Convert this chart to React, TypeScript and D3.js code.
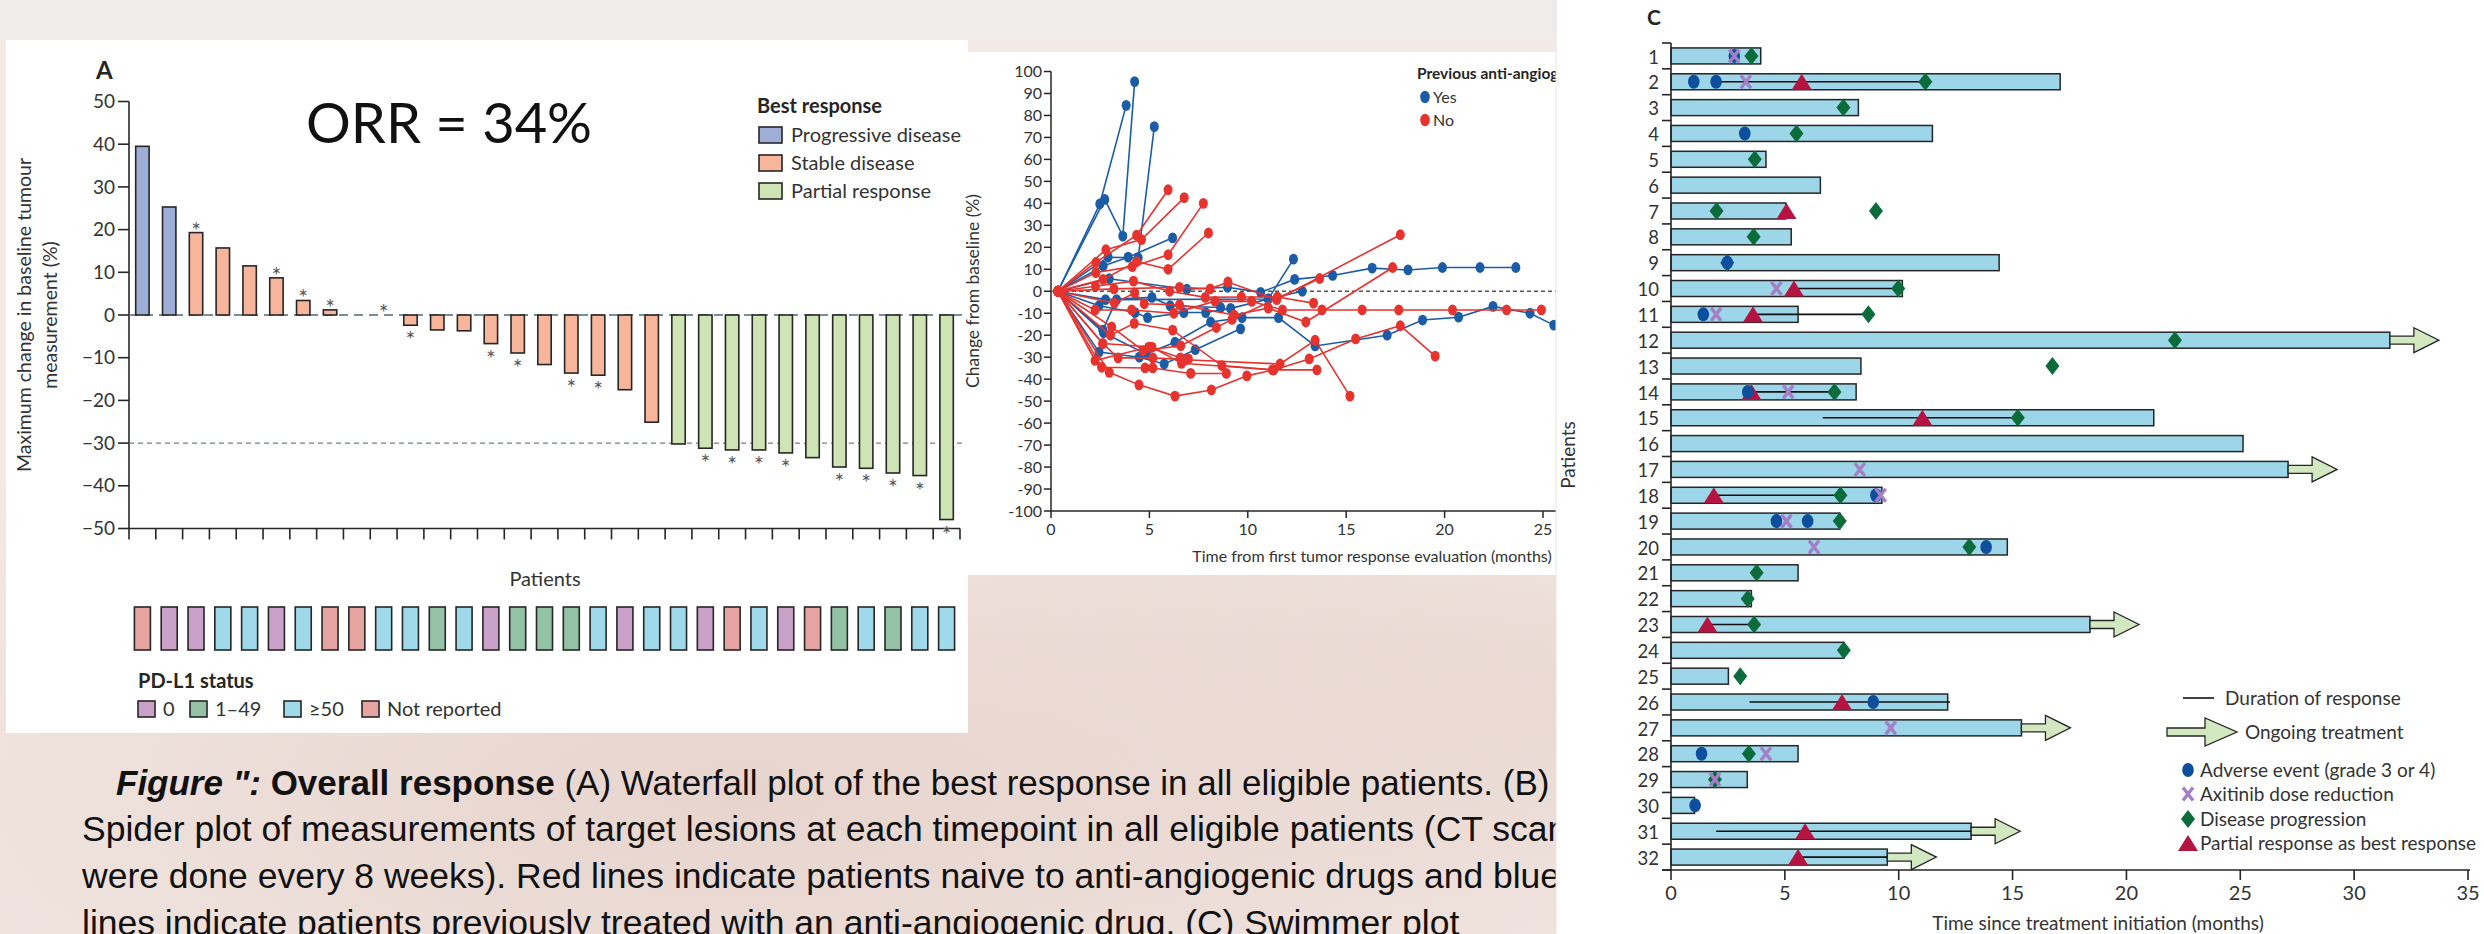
import React from "react";
import * as d3 from "d3";

const NARROW = "Lato, 'Open Sans', sans-serif";
const SANS = "Lato, 'Open Sans', sans-serif";
const CAPTION = "'Liberation Sans', Arial, sans-serif";
const INK = "#262626";

// ---------- Panel A: waterfall of best response ----------
const waterfallChange = [
  39.5, 25.3, 19.3, 15.7, 11.5, 8.7, 3.4, 1.2, 0, 0, -2.4, -3.5, -3.7, -6.7, -8.9, -11.6,
  -13.6, -14.1, -17.5, -25.1, -30.2, -31.2, -31.6, -31.6, -32.3, -33.4, -35.6, -35.9, -37.0,
  -37.6, -47.9,
];
const bestResponse = [
  "PD", "PD",
  "SD", "SD", "SD", "SD", "SD", "SD", "SD", "SD", "SD", "SD", "SD", "SD", "SD", "SD", "SD", "SD", "SD", "SD",
  "PR", "PR", "PR", "PR", "PR", "PR", "PR", "PR", "PR", "PR", "PR",
];
const hasAsterisk = [
  0, 0, 1, 0, 0, 1, 1, 1, 0, 1, 1, 0, 0, 1, 1, 0, 1, 1, 0, 0, 0, 1, 1, 1, 1, 0, 1, 1, 1, 1, 1,
];
const pdl1Status = [
  "NR", "0", "0", "50", "50", "0", "50", "NR", "NR", "50", "50", "1", "50", "0", "1", "1",
  "1", "50", "0", "50", "50", "0", "NR", "50", "0", "NR", "1", "50", "1", "50", "50",
];
const responseColors: Record<string, string> = { PD: "#9eaed6", SD: "#f7b59b", PR: "#cfe4b4" };
const responseLegend = [
  ["PD", "Progressive disease"],
  ["SD", "Stable disease"],
  ["PR", "Partial response"],
];
const pdl1Colors: Record<string, string> = { "0": "#c9a1c9", "1": "#93c2a4", "50": "#9fd9ea", NR: "#e6a4a1" };
const pdl1Legend = [
  ["0", "0"],
  ["1", "1–49"],
  ["50", "≥50"],
  ["NR", "Not reported"],
];
const waterfallTicks = [50, 40, 30, 20, 10, 0, -10, -20, -30, -40, -50];

// ---------- Panel B: spider plot (month, % change) ----------
const spiderYes: number[][][] = [
  [[0.35, 0], [2.48, 39.7], [3.82, 84.6]],
  [[0.35, 0], [2.73, 41.8], [3.65, 25.1], [4.25, 95.4]],
  [[0.35, 0], [2.9, 15.5], [4.43, 15.2], [5.25, 74.9]],
  [[0.35, 0], [2.65, 11.5], [3.92, 15.5], [6.18, 24.3]],
  [[0.35, 0], [2.96, 5.7], [6.9, 0.9], [8.97, 1.8], [10.65, -0.5], [12.38, 5.4], [14.31, 7.2], [16.32, 10.5], [18.14, 9.7], [19.89, 10.8], [21.8, 10.8], [23.62, 10.8]],
  [[0.35, 0], [2.44, -27.7], [4.49, -30], [5.75, -33.1], [7.33, -26.6], [9.63, -17.1]],
  [[0.35, 0], [2.67, -18.9], [4.82, -28.5], [6.3, -23.2], [8.11, -14], [9.71, -12], [11.56, -12], [13.42, -24.9], [17.08, -20], [18.88, -13.1], [20.71, -11.8], [22.46, -6.9], [24.34, -10], [25.55, -15.4]],
  [[0.35, 0], [2.44, -6.6], [4.27, -9.7], [4.91, -12], [6.75, -9.7], [7.86, -9.7], [9.13, -7.8], [11.04, -3.5], [12.32, 14.6]],
  [[0.35, 0], [2.77, -3.8], [5.13, -2.8], [6.05, -6.6], [8.62, -7.4]],
  [[0.35, 0], [2.63, -17.7], [3.33, -3.8], [11.04, -3.5], [12.77, 0]],
];
const spiderNo: number[][][] = [
  [[0.35, 0], [2.28, 13.1], [4.35, 25.5], [5.95, 46.2]],
  [[0.35, 0], [2.79, 18.9], [4.6, 23.5], [6.77, 42.6]],
  [[0.35, 0], [2.28, 8.5], [4.13, 11.2], [5.95, 16.6], [7.74, 40]],
  [[0.35, 0], [2.65, 5.4], [4.35, 13.5], [5.95, 10], [8.0, 26.5]],
  [[0.35, 0], [2.26, 2.3], [4.19, 4.6], [6.03, 0], [7.84, -2.8], [9.67, -2.6], [11.5, -2.6], [13.34, -5.4]],
  [[0.35, 0], [3.2, 1.1], [6.53, 1.8], [8.09, 1.1], [8.99, 4.2], [11.47, -3.8], [17.75, 25.7]],
  [[0.35, 0], [2.24, -8.5], [4.1, -8.5], [6.24, -10], [8.33, -4.5], [10.2, -4.6], [11.76, -8.5], [13.77, -8.5], [15.81, -8.5], [17.67, -8.5], [20.4, -8.5], [23.15, -8.5], [24.92, -8.5]],
  [[0.35, 0], [3.22, -5.4], [4.25, -0.8], [4.74, -5.7], [6.53, -6.2], [9.3, -10.8], [11.04, -7.7], [12.95, -14], [17.36, 10.8]],
  [[0.35, 0], [3.08, -16.2], [4.68, -27], [6.59, -24.8], [8.4, -16.5], [9.2, -12.8], [13.65, 5.8]],
  [[0.35, 0], [2.96, -36.9], [4.47, -42.6], [6.3, -47.7], [8.15, -44.9], [9.95, -38.5], [11.31, -35.8], [13.12, -30.8], [15.48, -21.7], [17.75, -15.7], [19.52, -29.5]],
  [[0.35, 0], [3.02, -20], [4.23, -14.6], [6.18, -17.7], [8.68, -33.8], [11.25, -35.8], [13.51, -35.8]],
  [[0.35, 0], [2.57, -34.6], [4.78, -34.9], [5.17, -34.9], [7.1, -37.4], [8.91, -37.4]],
  [[0.35, 0], [2.63, -23.8], [3.41, -30.3], [5.17, -30.3], [6.83, -31.2], [11.64, -33.1], [13.42, -22.3], [15.19, -47.7]],
  [[0.35, 0], [2.24, -31.5], [4.97, -25.4], [6.57, -30.3], [6.98, -30.8]],
  [[0.35, 0], [2.63, -23.8], [5.13, -25.4], [6.63, -32.8], [11.31, -35.8]],
];
const spiderYTicks = [100, 90, 80, 70, 60, 50, 40, 30, 20, 10, 0, -10, -20, -30, -40, -50, -60, -70, -80, -90, -100];
const spiderXTicks = [0, 5, 10, 15, 20, 25];
const spiderBlue = "#1b5ca7";
const spiderRed = "#e6332e";

// ---------- Panel C: swimmer plot ----------
const patients = [
  1, 2, 3, 4, 5, 6, 7, 8, 9, 10, 11, 12, 13, 14, 15, 16,
  17, 18, 19, 20, 21, 22, 23, 24, 25, 26, 27, 28, 29, 30, 31, 32,
];
const treatmentMonths = [
  3.94, 17.09, 8.23, 11.48, 4.17, 6.56, 5.04, 5.28, 14.41, 10.16, 5.58, 31.57, 8.34, 8.13, 21.2, 25.12,
  27.1, 9.26, 7.41, 14.77, 5.58, 3.53, 18.4, 7.59, 2.52, 12.15, 15.39, 5.58, 3.35, 1.03, 13.18, 9.5,
];
const ongoingPatients = [12, 17, 23, 27, 31, 32];
const responseSpans = [
  [2, 1.98, 11.17], [10, 5.4, 9.98], [11, 3.6, 8.67], [14, 3.37, 7.18], [15, 6.66, 15.23],
  [18, 1.88, 7.44], [23, 1.6, 3.65], [26, 3.45, 12.25], [31, 1.98, 13.18], [32, 5.58, 9.5],
];
const adverseEvents = [
  [1, 2.78], [2, 1.0], [2, 1.98], [4, 3.24], [9, 2.47], [11, 1.42], [14, 3.37], [18, 9.0],
  [19, 4.63], [19, 6.0], [20, 13.84], [26, 8.88], [28, 1.34], [30, 1.06],
];
const doseReductions = [
  [1, 2.78], [2, 3.29], [10, 4.63], [11, 1.98], [14, 5.15], [17, 8.29], [18, 9.21], [19, 5.07],
  [20, 6.28], [27, 9.65], [28, 4.17], [29, 1.93],
];
const progressions = [
  [1, 3.53], [2, 11.17], [3, 7.57], [4, 5.51], [5, 3.68], [7, 2.0], [7, 9.0], [8, 3.63], [9, 2.47],
  [10, 9.98], [11, 8.67], [12, 22.13], [13, 16.75], [14, 7.18], [15, 15.23], [18, 7.44], [19, 7.41],
  [20, 13.1], [21, 3.76], [22, 3.37], [23, 3.65], [24, 7.59], [25, 3.04], [28, 3.42], [29, 1.93],
];
const partialResponses = [
  [2, 5.74], [7, 5.07], [10, 5.4], [11, 3.6], [14, 3.53], [15, 11.04], [18, 1.88], [23, 1.6],
  [26, 7.51], [31, 5.89], [32, 5.58],
];
const swimmerTicks = [0, 5, 10, 15, 20, 25, 30, 35];
const swimmerLegend = [
  "Adverse event (grade 3 or 4)",
  "Axitinib dose reduction",
  "Disease progression",
  "Partial response as best response",
];
const C_BAR = "#9dd6e8";
const C_ARROW = "#d2e8c0";
const C_DOT = "#0e4f9d";
const C_CROSS = "#a47fc6";
const C_DIAMOND = "#0b6b3a";
const C_TRIANGLE = "#b51340";

// ---------- caption ----------
const captionLines = [
  "Spider plot of measurements of target lesions at each timepoint in all eligible patients (CT scans",
  "were done every 8 weeks). Red lines indicate patients naive to anti-angiogenic drugs and blue",
  "lines indicate patients previously treated with an anti-angiogenic drug. (C) Swimmer plot",
];

function diamond(cx: number, cy: number, w = 7, h = 9) {
  return `M${cx},${cy - h} L${cx + w},${cy} L${cx},${cy + h} L${cx - w},${cy} Z`;
}
function triangle(cx: number, cy: number, w = 10, h = 8) {
  return `M${cx},${cy - h} L${cx + w},${cy + h} L${cx - w},${cy + h} Z`;
}
function cross(cx: number, cy: number, w = 5, h = 6.5) {
  return `M${cx - w},${cy - h} L${cx + w},${cy + h} M${cx + w},${cy - h} L${cx - w},${cy + h}`;
}
function arrow(x0: number, cy: number, shaft = 24, head = 25, hh = 12.5) {
  return `M${x0},${cy - 4} H${x0 + shaft} V${cy - hh} L${x0 + shaft + head},${cy} L${x0 + shaft},${cy + hh} V${cy + 4} H${x0} Z`;
}

export default function App() {
  // Panel A scales
  const xW = d3
    .scaleBand<number>()
    .domain(waterfallChange.map((_, i) => i))
    .range([129, 960])
    .paddingInner(0.5)
    .paddingOuter(0.25);
  const yW = d3.scaleLinear().domain([-50, 50]).range([528.5, 101.5]);
  const boundaries = waterfallChange.map((_, i) => 129 + i * xW.step()).concat([960]);

  // Panel B scales
  const xS = d3.scaleLinear().domain([0, 25]).range([1051, 1543]);
  const yS = d3.scaleLinear().domain([-100, 100]).range([511, 71.5]);
  const lineS = d3
    .line<number[]>()
    .x((d) => xS(d[0]))
    .y((d) => yS(d[1]));

  // Panel C scales
  const xC = d3.scaleLinear().domain([0, 35]).range([1671, 2468]);
  const yC = d3.scaleBand<number>().domain(patients).range([43, 870]);
  const rowY = (p: number) => (yC(p) as number) + yC.bandwidth() / 2;
  const rowEdges = patients.map((p) => yC(p) as number).concat([870]);

  return (
    <svg
      width={2484}
      height={934}
      viewBox="0 0 2484 934"
      style={{ position: "absolute", left: 0, top: 0, display: "block" }}
    >
      <defs>
        <radialGradient id="hazeA" cx="0.3" cy="0.85" r="0.45">
          <stop offset="0" stopColor="#e2cbc3" stopOpacity="0.7" />
          <stop offset="1" stopColor="#e2cbc3" stopOpacity="0" />
        </radialGradient>
        <radialGradient id="hazeB" cx="0.62" cy="0.75" r="0.3">
          <stop offset="0" stopColor="#e6d2cb" stopOpacity="0.6" />
          <stop offset="1" stopColor="#e6d2cb" stopOpacity="0" />
        </radialGradient>
      </defs>

      {/* page background */}
      <rect x={0} y={0} width={2484} height={934} fill="#f3e9e5" />
      <rect x={0} y={0} width={2484} height={934} fill="url(#hazeA)" />
      <rect x={0} y={0} width={2484} height={934} fill="url(#hazeB)" />
      <rect x={0} y={0} width={1560} height={40} fill="#f1ecec" />

      {/* ===== Panel A ===== */}
      <rect x={6} y={40} width={962} height={693} fill="#ffffff" />
      <text x={96} y={79} fontFamily={SANS} fontWeight={700} fontSize={24} fill={INK}>A</text>
      <text x={306} y={143} fontFamily={SANS} fontSize={56} fill="#111">ORR = 34%</text>

      {/* y axis */}
      <line x1={129} x2={129} y1={yW(50)} y2={yW(-50)} stroke={INK} strokeWidth={1.6} />
      {waterfallTicks.map((t) => (
        <g key={t}>
          <line x1={118} x2={129} y1={yW(t)} y2={yW(t)} stroke={INK} strokeWidth={1.6} />
          <text
            x={115}
            y={yW(t)}
            dy="0.35em"
            textAnchor="end"
            fontFamily={SANS}
            fontSize={19}
            fill="#333"
          >
            {t < 0 ? `−${-t}` : t}
          </text>
        </g>
      ))}
      <text
        transform="translate(31,315) rotate(-90)"
        textAnchor="middle"
        fontFamily={SANS}
        fontSize={19.5}
        fill="#333"
      >
        Maximum change in baseline tumour
      </text>
      <text
        transform="translate(57,315) rotate(-90)"
        textAnchor="middle"
        fontFamily={SANS}
        fontSize={19.5}
        fill="#333"
      >
        measurement (%)
      </text>

      {/* x axis */}
      <line x1={129} x2={960} y1={yW(-50)} y2={yW(-50)} stroke={INK} strokeWidth={1.6} />
      {boundaries.map((bx, i) => (
        <line key={i} x1={bx} x2={bx} y1={yW(-50)} y2={yW(-50) + 11} stroke={INK} strokeWidth={1.6} />
      ))}

      {/* reference lines */}
      <line x1={129} x2={962} y1={yW(0)} y2={yW(0)} stroke="#4e6b74" strokeWidth={1.6} strokeDasharray="9,6" />
      <line x1={129} x2={962} y1={yW(-30)} y2={yW(-30)} stroke="#6d8189" strokeWidth={1.2} strokeDasharray="5,4" />

      {/* bars */}
      {waterfallChange.map((v, i) => {
        const x = xW(i) as number;
        const y0 = yW(Math.max(v, 0));
        const y1 = yW(Math.min(v, 0));
        return (
          <rect
            key={i}
            x={x}
            y={y0}
            width={xW.bandwidth()}
            height={y1 - y0}
            fill={responseColors[bestResponse[i]]}
            stroke={INK}
            strokeWidth={1.6}
          />
        );
      })}
      {waterfallChange.map((v, i) =>
        hasAsterisk[i] ? (
          <text
            key={i}
            x={(xW(i) as number) + xW.bandwidth() / 2}
            y={v >= 0 ? yW(v) + 6 : yW(v) + 23}
            textAnchor="middle"
            fontFamily={SANS}
            fontSize={23}
            fill="#5a5a5a"
          >
            *
          </text>
        ) : null
      )}

      {/* response legend */}
      <text x={757} y={113} fontFamily={NARROW} fontWeight={700} fontSize={20} fill={INK}>Best response</text>
      {responseLegend.map(([k, label], i) => (
        <g key={k}>
          <rect x={759} y={127 + i * 28} width={23} height={16} fill={responseColors[k]} stroke={INK} strokeWidth={1.6} />
          <text x={791} y={135 + i * 28} dy="0.35em" fontFamily={NARROW} fontSize={20} fill="#333">{label}</text>
        </g>
      ))}

      <text x={545} y={586} textAnchor="middle" fontFamily={NARROW} fontSize={20} fill="#333">Patients</text>

      {/* PD-L1 strip */}
      {pdl1Status.map((s, i) => (
        <rect
          key={i}
          x={(xW(i) as number) + xW.bandwidth() / 2 - 8}
          y={607}
          width={16}
          height={43}
          fill={pdl1Colors[s]}
          stroke={INK}
          strokeWidth={1.6}
        />
      ))}
      <text x={138} y={688} fontFamily={NARROW} fontWeight={700} fontSize={20} fill={INK}>PD-L1 status</text>
      {pdl1Legend.map(([k, label], i) => {
        const lx = [138, 190, 284, 362][i];
        return (
          <g key={k}>
            <rect x={lx} y={701} width={17} height={16} fill={pdl1Colors[k]} stroke={INK} strokeWidth={1.6} />
            <text x={lx + 25} y={709} dy="0.35em" fontFamily={NARROW} fontSize={20} fill="#333">{label}</text>
          </g>
        );
      })}

      {/* ===== Panel B ===== */}
      <rect x={968} y={52} width={600} height={523} fill="#ffffff" />
      <text
        transform="translate(979,291) rotate(-90)"
        textAnchor="middle"
        fontFamily={SANS}
        fontSize={17.5}
        fill="#333"
      >
        Change from baseline (%)
      </text>
      <line x1={1051} x2={1051} y1={yS(100)} y2={yS(-100)} stroke={INK} strokeWidth={1.5} />
      {spiderYTicks.map((t) => (
        <g key={t}>
          <line x1={1044} x2={1051} y1={yS(t)} y2={yS(t)} stroke={INK} strokeWidth={1.5} />
          <text x={1042} y={yS(t)} dy="0.35em" textAnchor="end" fontFamily={NARROW} fontSize={16} fill="#333">
            {t}
          </text>
        </g>
      ))}
      <line x1={1051} x2={1570} y1={yS(-100)} y2={yS(-100)} stroke={INK} strokeWidth={1.5} />
      {spiderXTicks.map((t) => (
        <g key={t}>
          <line x1={xS(t)} x2={xS(t)} y1={yS(-100)} y2={yS(-100) + 7} stroke={INK} strokeWidth={1.5} />
          <text x={xS(t)} y={529} dy="0.35em" textAnchor="middle" fontFamily={NARROW} fontSize={16} fill="#333">
            {t}
          </text>
        </g>
      ))}
      <text x={1372} y={562} textAnchor="middle" fontFamily={NARROW} fontSize={16} fill="#333">
        Time from first tumor response evaluation (months)
      </text>
      <line x1={1051} x2={1570} y1={yS(0)} y2={yS(0)} stroke="#555" strokeWidth={1.5} strokeDasharray="4,3" />

      {spiderYes.map((s, i) => (
        <g key={`y${i}`}>
          <path d={lineS(s) as string} fill="none" stroke={spiderBlue} strokeWidth={1.6} />
          {s.map((d, j) => (
            <ellipse key={j} cx={xS(d[0])} cy={yS(d[1])} rx={4.5} ry={5.4} fill={spiderBlue} />
          ))}
        </g>
      ))}
      {spiderNo.map((s, i) => (
        <g key={`n${i}`}>
          <path d={lineS(s) as string} fill="none" stroke={spiderRed} strokeWidth={1.6} />
          {s.map((d, j) => (
            <ellipse key={j} cx={xS(d[0])} cy={yS(d[1])} rx={4.5} ry={5.4} fill={spiderRed} />
          ))}
        </g>
      ))}

      <text x={1417} y={79} fontFamily={NARROW} fontWeight={700} fontSize={15.5} fill={INK}>
        Previous anti-angiogenic treatment
      </text>
      <ellipse cx={1425} cy={97} rx={4.8} ry={6.2} fill={spiderBlue} />
      <text x={1433} y={97} dy="0.35em" fontFamily={NARROW} fontSize={16} fill="#333">Yes</text>
      <ellipse cx={1425} cy={120} rx={4.8} ry={6.2} fill={spiderRed} />
      <text x={1433} y={120} dy="0.35em" fontFamily={NARROW} fontSize={16} fill="#333">No</text>

      {/* ===== caption ===== */}
      <text x={116} y={795} fontFamily={CAPTION} fontSize={35} fill="#111">
        <tspan fontWeight={700} fontStyle="italic">Figure ":</tspan>
        <tspan fontWeight={700}> Overall response</tspan>
        <tspan> (A) Waterfall plot of the best response in all eligible patients. (B)</tspan>
      </text>
      {captionLines.map((line, i) => (
        <text key={i} x={82} y={841 + i * 47} fontFamily={CAPTION} fontSize={35.5} fill="#111">
          {line}
        </text>
      ))}

      {/* ===== Panel C ===== */}
      <rect x={1556} y={0} width={928} height={934} fill="#ffffff" />
      <line x1={1556} x2={1556} y1={0} y2={934} stroke="#e8e2e2" strokeWidth={1} />
      <text x={1647} y={25} fontFamily={NARROW} fontWeight={700} fontSize={21} fill={INK}>C</text>

      {/* bars */}
      {patients.map((p, i) => (
        <rect
          key={p}
          x={xC(0)}
          y={rowY(p) - 8}
          width={xC(treatmentMonths[i]) - xC(0)}
          height={16}
          fill={C_BAR}
          stroke={INK}
          strokeWidth={1.5}
        />
      ))}
      {ongoingPatients.map((p) => (
        <path
          key={p}
          d={arrow(xC(treatmentMonths[p - 1]), rowY(p))}
          fill={C_ARROW}
          stroke={INK}
          strokeWidth={1.3}
        />
      ))}
      {responseSpans.map(([p, a, b]) => (
        <line key={p} x1={xC(a)} x2={xC(b)} y1={rowY(p)} y2={rowY(p)} stroke="#111" strokeWidth={1.6} />
      ))}
      {partialResponses.map(([p, m], i) => (
        <path key={i} d={triangle(xC(m), rowY(p))} fill={C_TRIANGLE} />
      ))}
      {progressions.map(([p, m], i) => (
        <path key={i} d={diamond(xC(m), rowY(p))} fill={C_DIAMOND} />
      ))}
      {adverseEvents.map(([p, m], i) => (
        <ellipse key={i} cx={xC(m)} cy={rowY(p)} rx={5.8} ry={7} fill={C_DOT} />
      ))}
      {doseReductions.map(([p, m], i) => (
        <path key={i} d={cross(xC(m), rowY(p))} stroke={C_CROSS} strokeWidth={3.4} fill="none" />
      ))}

      {/* axes */}
      <line x1={xC(0)} x2={xC(0)} y1={43} y2={870} stroke={INK} strokeWidth={1.6} />
      {rowEdges.map((e, i) => (
        <line key={i} x1={1662} x2={xC(0)} y1={e} y2={e} stroke={INK} strokeWidth={1.6} />
      ))}
      {patients.map((p) => (
        <text key={p} x={1659} y={rowY(p) + 1} dy="0.36em" textAnchor="end" fontFamily={NARROW} fontSize={18.5} fill="#333">
          {p}
        </text>
      ))}
      <line x1={1662} x2={2470} y1={870} y2={870} stroke={INK} strokeWidth={1.6} />
      {swimmerTicks.map((t) => (
        <g key={t}>
          <line x1={xC(t)} x2={xC(t)} y1={870} y2={880} stroke={INK} strokeWidth={1.6} />
          <text x={xC(t)} y={893} dy="0.36em" textAnchor="middle" fontFamily={NARROW} fontSize={20} fill="#333">
            {t}
          </text>
        </g>
      ))}
      <text x={2098} y={930} textAnchor="middle" fontFamily={NARROW} fontSize={19} fill="#333">
        Time since treatment initiation (months)
      </text>
      <text
        transform="translate(1575,455) rotate(-90)"
        textAnchor="middle"
        fontFamily={SANS}
        fontSize={19}
        fill="#333"
      >
        Patients
      </text>

      {/* legend */}
      <line x1={2183} x2={2214} y1={698} y2={698} stroke="#111" strokeWidth={1.6} />
      <text x={2225} y={698} dy="0.35em" fontFamily={NARROW} fontSize={19} fill="#333">Duration of response</text>
      <path d={arrow(2167, 732, 38, 32, 14)} fill={C_ARROW} stroke={INK} strokeWidth={1.3} />
      <text x={2245} y={732} dy="0.35em" fontFamily={NARROW} fontSize={19} fill="#333">Ongoing treatment</text>
      <ellipse cx={2188} cy={770} rx={5.8} ry={7} fill={C_DOT} />
      <path d={cross(2188, 794)} stroke={C_CROSS} strokeWidth={3.4} fill="none" />
      <path d={diamond(2188, 819)} fill={C_DIAMOND} />
      <path d={triangle(2188, 843)} fill={C_TRIANGLE} />
      {swimmerLegend.map((label, i) => (
        <text key={label} x={2200} y={[770, 794, 819, 843][i]} dy="0.35em" fontFamily={NARROW} fontSize={19} fill="#333">
          {label}
        </text>
      ))}
    </svg>
  );
}
